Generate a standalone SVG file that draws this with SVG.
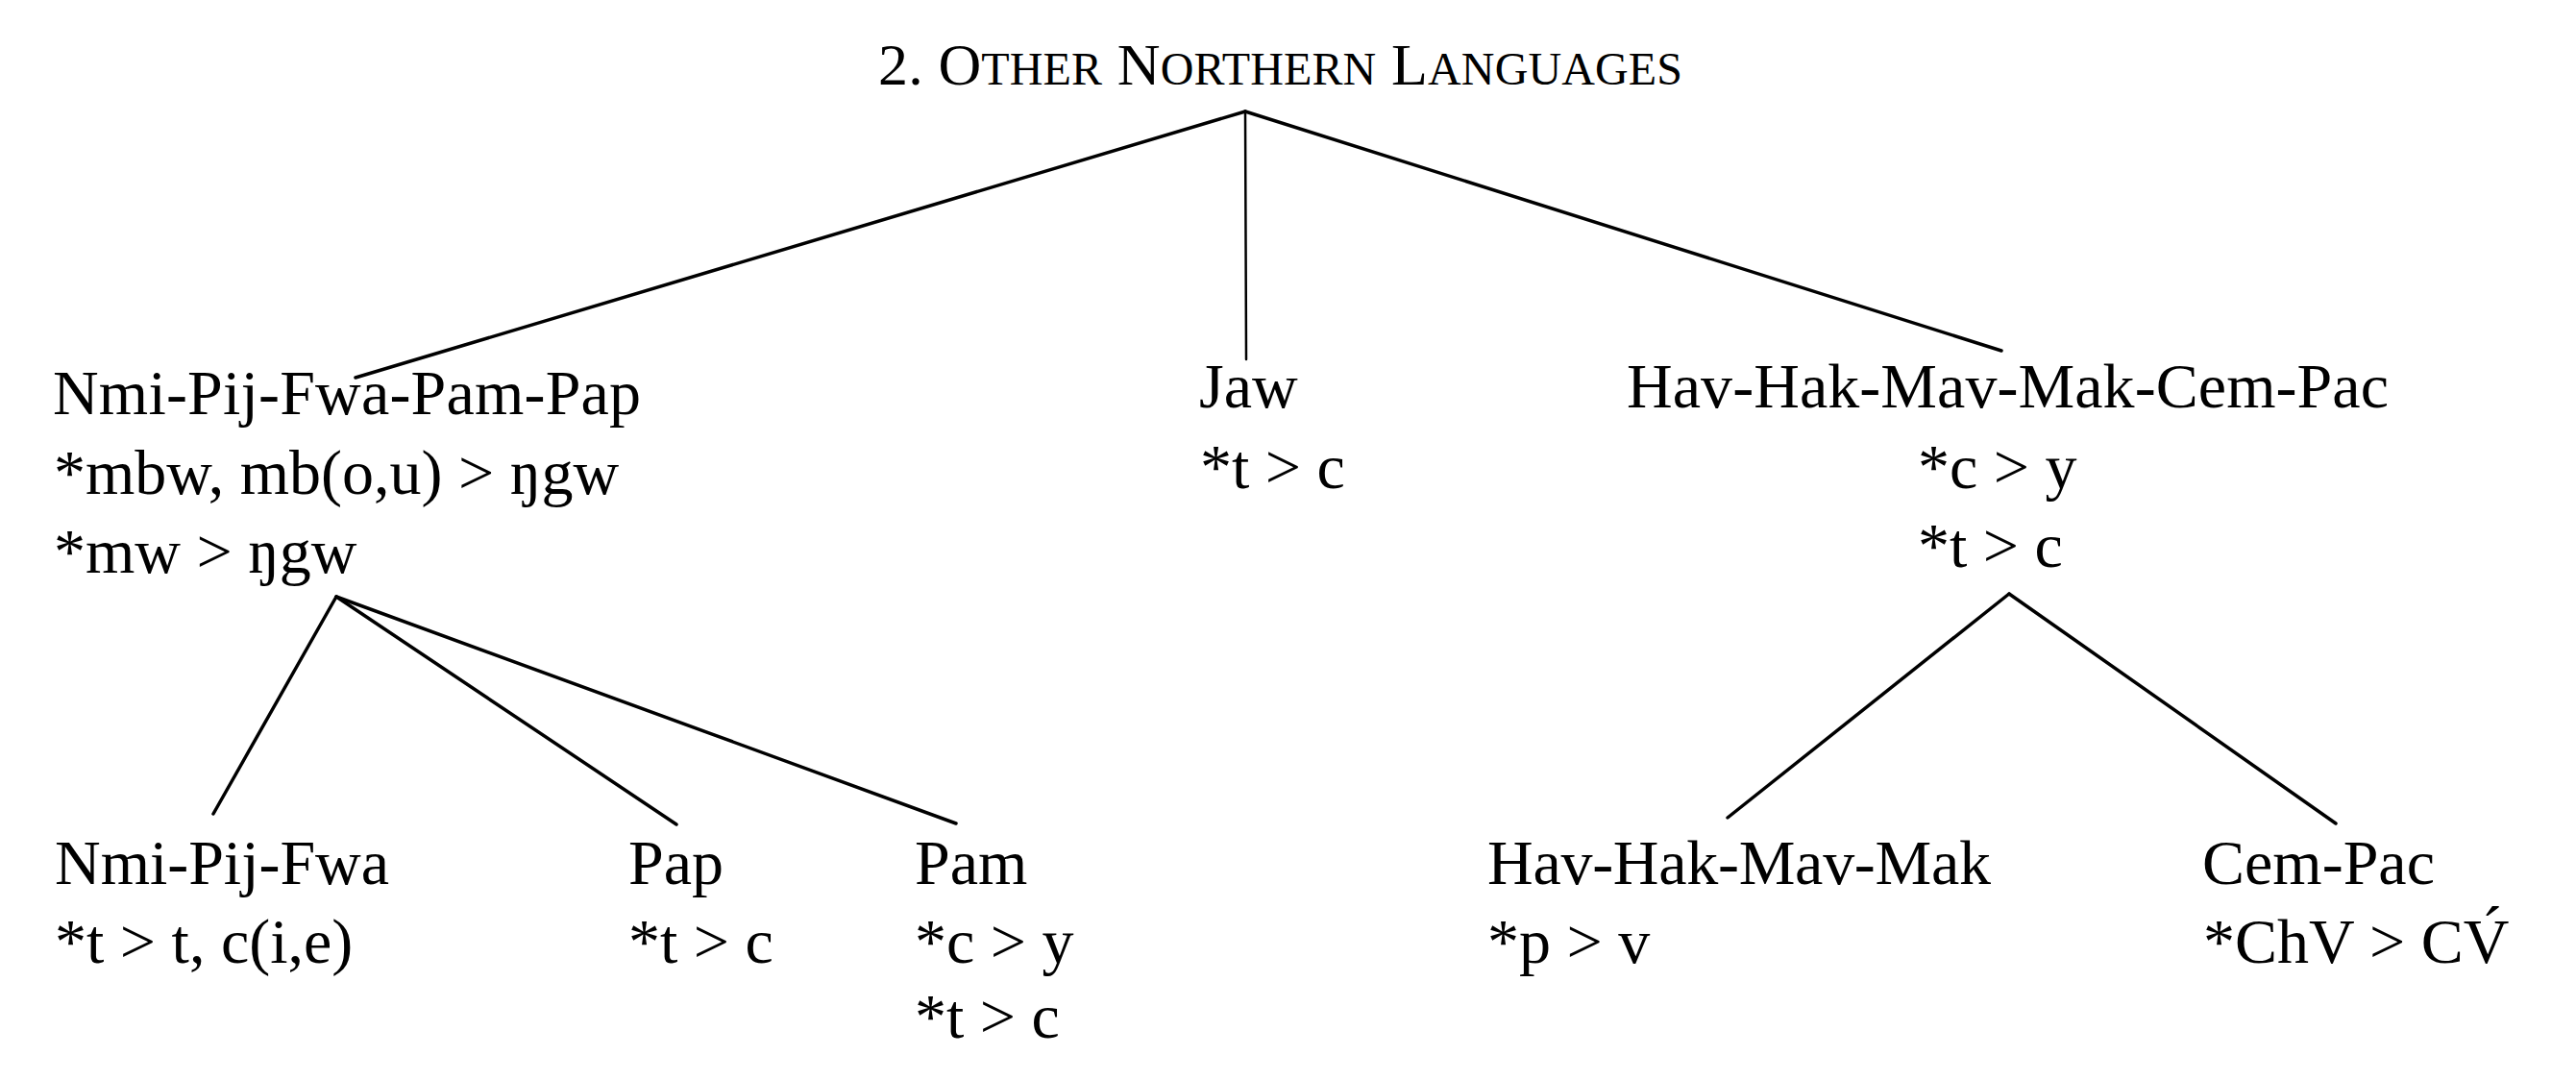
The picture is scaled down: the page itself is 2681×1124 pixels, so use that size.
<svg xmlns="http://www.w3.org/2000/svg" width="2681" height="1124" viewBox="0 0 2681 1124">
<style>
text{font-family:"Liberation Serif","Times New Roman",serif;font-size:66px;fill:#000}
.t{font-size:62px}
.sc{font-size:48px}
.e{stroke:#000;stroke-width:3.5;fill:none;stroke-linecap:round}
</style>
<rect width="2681" height="1124" fill="#fff"/>
<g id="title"><text class="t" x="914" y="88" textLength="837" lengthAdjust="spacing">2. O<tspan class="sc">THER</tspan> N<tspan class="sc">ORTHERN</tspan> L<tspan class="sc">ANGUAGES</tspan></text></g>
<g id="connectors">
<line class="e" x1="1296" y1="116" x2="370" y2="393"/>
<line class="e" x1="1296" y1="116" x2="1297" y2="374" style="stroke-width:2.5"/>
<line class="e" x1="1296" y1="116" x2="2083" y2="365"/>
<line class="e" x1="350" y1="621" x2="222" y2="847"/>
<line class="e" x1="350" y1="621" x2="704" y2="858"/>
<line class="e" x1="350" y1="621" x2="995" y2="857"/>
<line class="e" x1="2091" y1="618" x2="1798" y2="851"/>
<line class="e" x1="2091" y1="618" x2="2431" y2="857"/>
</g>
<g id="n-nmi-pij-fwa-pam-pap">
<text x="55" y="431" textLength="612" lengthAdjust="spacing">Nmi-Pij-Fwa-Pam-Pap</text>
<text x="56" y="514">*mbw, mb(o,u) &gt; ŋgw</text>
<text x="56" y="596">*mw &gt; ŋgw</text>
</g>
<g id="n-jaw">
<text x="1248" y="424">Jaw</text>
<text x="1249" y="508">*t &gt; c</text>
</g>
<g id="n-hav-hak-mav-mak-cem-pac">
<text x="1693" y="424" textLength="793" lengthAdjust="spacing">Hav-Hak-Mav-Mak-Cem-Pac</text>
<text x="1996" y="508">*c &gt; y</text>
<text x="1996" y="590">*t &gt; c</text>
</g>
<g id="n-nmi-pij-fwa">
<text x="57" y="920" textLength="348" lengthAdjust="spacing">Nmi-Pij-Fwa</text>
<text x="57" y="1002">*t &gt; t, c(i,e)</text>
</g>
<g id="n-pap">
<text x="654" y="920">Pap</text>
<text x="654" y="1002">*t &gt; c</text>
</g>
<g id="n-pam">
<text x="952" y="920">Pam</text>
<text x="952" y="1002">*c &gt; y</text>
<text x="952" y="1080">*t &gt; c</text>
</g>
<g id="n-hav-hak-mav-mak">
<text x="1548" y="920" textLength="524" lengthAdjust="spacing">Hav-Hak-Mav-Mak</text>
<text x="1548" y="1002">*p &gt; v</text>
</g>
<g id="n-cem-pac">
<text x="2292" y="920">Cem-Pac</text>
<text x="2293" y="1002">*ChV &gt; CV́</text>
</g>
</svg>
